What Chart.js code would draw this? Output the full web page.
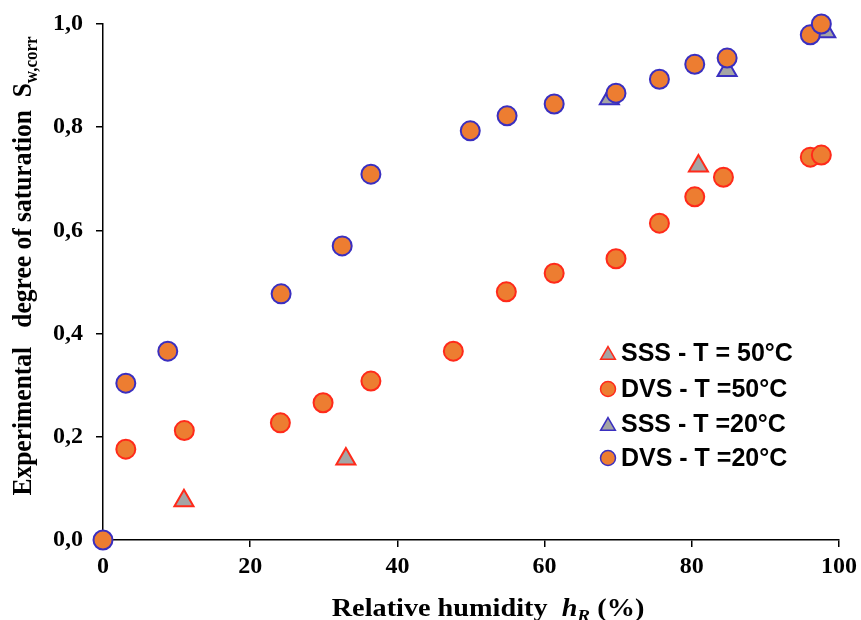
<!DOCTYPE html>
<html lang="en">
<head>
    <meta charset="UTF-8">
    <title>Degree of saturation</title>
    <style>
        body{
            margin: 0;
            background: #fff;
        }
    </style>
</head>
<body>
    <canvas id="grafik" width="861" height="620"></canvas>

    <script src="https://cdn.jsdelivr.net/npm/chart.js"></script>

    <script>
        // SSS - T = 50°C
        const sss50X = [11.0, 33.0, 80.9]
        const sss50Y = [0.076, 0.157, 0.725]

        // DVS - T = 50°C
        const dvs50X = [3.1, 11.05, 24.1, 29.9, 36.4, 47.6, 54.8, 61.3, 69.7, 75.6, 80.4, 84.3, 96.1, 97.6]
        const dvs50Y = [0.176, 0.212, 0.227, 0.266, 0.308, 0.366, 0.481, 0.517, 0.545, 0.614, 0.665, 0.703, 0.742, 0.746]

        // SSS - T = 20°C
        const sss20X = [68.8, 84.8, 98.2]
        const sss20Y = [0.855, 0.91, 0.985]

        // DVS - T = 20°C
        const dvs20X = [0, 3.1, 8.8, 24.2, 32.5, 36.4, 49.9, 54.9, 61.3, 69.7, 75.6, 80.4, 84.8, 96.1, 97.6]
        const dvs20Y = [0, 0.304, 0.366, 0.477, 0.570, 0.709, 0.793, 0.822, 0.845, 0.866, 0.893, 0.922, 0.934, 0.979, 1.0]

        const xTicks = [0, 20, 40, 60, 80, 100]
        const yTicks = [0, 0.2, 0.4, 0.6, 0.8, 1.0]

        const legendLabels = ["SSS - T = 50°C", "DVS - T =50°C", "SSS - T =20°C", "DVS - T =20°C"]

        const orange = "#ED7D31"
        const grey = "#A5A5A5"
        const red = "#FF2A1A"
        const blue = "#3A2FC0"

        function toPoints(xs, ys){
            return xs.map((x, i) => ({x: x, y: ys[i]}))
        }

        // draws a line of text made of pieces with their own font / offset
        // sx stretches along the text, sy across it
        function richText(ctx, parts, cx, cy, sx, sy){
            var total = 0
            parts.forEach(p => {
                ctx.font = p.font
                p.w = ctx.measureText(p.text).width
                total += p.w
            })
            ctx.save()
            ctx.translate(cx, cy)
            ctx.scale(sx, sy)
            var x = -total / 2
            parts.forEach(p => {
                ctx.font = p.font
                ctx.fillText(p.text, x, p.dy || 0)
                x += p.w
            })
            ctx.restore()
        }

        const titlesPlugin = {
            id: 'titles',
            afterDraw(chart){
                const ctx = chart.ctx
                ctx.save()
                ctx.fillStyle = "#000"
                ctx.textBaseline = "alphabetic"
                ctx.textAlign = "left"

                // x title
                richText(ctx, [
                    {text: "Relative humidity  ", font: "bold 25px 'Liberation Serif'"},
                    {text: "h", font: "italic bold 25px 'Liberation Serif'"},
                    {text: "R", font: "italic bold 17px 'Liberation Serif'", dy: 5},
                    {text: " (%)", font: "bold 25px 'Liberation Serif'"}
                ], 488, 616, 1.13, 1)

                // y title
                ctx.save()
                ctx.translate(31, 266)
                ctx.rotate(-Math.PI / 2)
                richText(ctx, [
                    {text: "Experimental   degree of saturation  S", font: "bold 25.5px 'Liberation Serif'"},
                    {text: "w,corr", font: "bold 17px 'Liberation Serif'", dy: 5}
                ], 0, 0, 1, 1.1)
                ctx.restore()

                // legend inside plot
                const rows = [353, 389, 424, 458]
                const styles = [
                    {shape: 'triangle', edge: red, fill: grey},
                    {shape: 'circle', edge: red, fill: orange},
                    {shape: 'triangle', edge: blue, fill: grey},
                    {shape: 'circle', edge: blue, fill: orange}
                ]
                ctx.textBaseline = "middle"
                rows.forEach((ry, i) => {
                    const s = styles[i]
                    ctx.fillStyle = s.fill
                    ctx.strokeStyle = s.edge
                    ctx.lineWidth = 1.5
                    ctx.beginPath()
                    if (s.shape === 'circle'){
                        ctx.arc(608, ry, 7.5, 0, Math.PI * 2)
                    } else {
                        const r = 8.5, cy = ry + 2
                        ctx.moveTo(608, cy - r)
                        ctx.lineTo(608 + r * Math.sqrt(3) / 2, cy + r / 2)
                        ctx.lineTo(608 - r * Math.sqrt(3) / 2, cy + r / 2)
                        ctx.closePath()
                    }
                    ctx.fill()
                    ctx.stroke()
                    ctx.fillStyle = "#000"
                    ctx.font = "bold 25px 'Liberation Sans'"
                    ctx.fillText(legendLabels[i], 621, ry + 1)
                })
                ctx.restore()
            }
        }

        const ctxChart = document.getElementById('grafik')

        new Chart(ctxChart, {
            type: 'scatter',
            data: {
                datasets: [
                    {
                        label: legendLabels[0],
                        data: toPoints(sss50X, sss50Y),
                        pointStyle: 'triangle',
                        pointRadius: 11,
                        backgroundColor: grey,
                        borderColor: red,
                        borderWidth: 2,
                        order: 2
                    },
                    {
                        label: legendLabels[1],
                        data: toPoints(dvs50X, dvs50Y),
                        pointStyle: 'circle',
                        pointRadius: 9.5,
                        backgroundColor: orange,
                        borderColor: red,
                        borderWidth: 2,
                        order: 3
                    },
                    {
                        label: legendLabels[2],
                        data: toPoints(sss20X, sss20Y),
                        pointStyle: 'triangle',
                        pointRadius: 11,
                        backgroundColor: grey,
                        borderColor: blue,
                        borderWidth: 2,
                        order: 1
                    },
                    {
                        label: legendLabels[3],
                        data: toPoints(dvs20X, dvs20Y),
                        pointStyle: 'circle',
                        pointRadius: 9.5,
                        backgroundColor: orange,
                        borderColor: blue,
                        borderWidth: 2,
                        order: 0
                    }
                ]
            },
            options: {
                responsive: false,
                animation: false,
                devicePixelRatio: 1,
                clip: false,
                layout: {
                    padding: {left: 0, top: 24, right: 22, bottom: 0}
                },
                plugins: {
                    legend: {display: false},
                    tooltip: {enabled: false}
                },
                elements: {
                    point: {hoverRadius: 9.5}
                },
                scales: {
                    x: {
                        type: 'linear',
                        min: 0,
                        max: 100,
                        afterFit(scale){
                            scale.height = 80
                            scale.paddingLeft = 0
                            scale.paddingRight = 0
                        },
                        afterBuildTicks(scale){ scale.ticks = xTicks.map(v => ({value: v})) },
                        border: {display: true, color: '#000', width: 1.5},
                        grid: {drawOnChartArea: false, drawTicks: true, tickLength: 7, color: '#000', lineWidth: 1.5},
                        ticks: {
                            color: '#000',
                            padding: 5,
                            font: {family: 'Liberation Serif', size: 24, weight: 'bold'}
                        }
                    },
                    y: {
                        type: 'linear',
                        min: 0,
                        max: 1,
                        afterFit(scale){
                            scale.width = 103
                            scale.paddingTop = 0
                            scale.paddingBottom = 0
                        },
                        afterBuildTicks(scale){ scale.ticks = yTicks.map(v => ({value: v})) },
                        border: {display: true, color: '#000', width: 1.5},
                        grid: {drawOnChartArea: false, drawTicks: true, tickLength: 7, color: '#000', lineWidth: 1.5},
                        ticks: {
                            color: '#000',
                            padding: 13,
                            font: {family: 'Liberation Serif', size: 24, weight: 'bold'},
                            callback: v => v.toFixed(1).replace('.', ',')
                        }
                    }
                }
            },
            plugins: [titlesPlugin]
        })
    </script>

</body>
</html>
